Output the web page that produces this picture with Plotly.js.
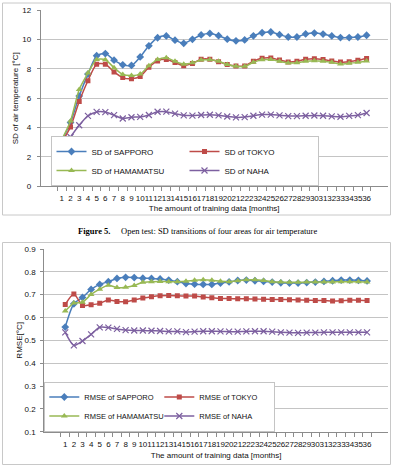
<!DOCTYPE html>
<html>
<head>
<meta charset="utf-8">
<script src="https://cdn.plot.ly/plotly-3.0.1.min.js"></script>
<style>
  html, body { margin: 0; padding: 0; background: #fff; }
  #chart { width: 394px; height: 467px; }
</style>
</head>
<body>
<div id="chart"></div>
<script>
// ---- data ----
const months = Array.from({length: 36}, (_, i) => String(i + 1));

const sdSapporo   = [3.12, 4.35, 6.15, 7.65, 8.90, 9.05, 8.60, 8.28, 8.24, 8.82, 9.58, 10.13, 10.25, 9.96, 9.75, 10.02, 10.32, 10.42, 10.27, 10.03, 9.92, 9.98, 10.26, 10.47, 10.52, 10.34, 10.18, 10.18, 10.39, 10.45, 10.38, 10.25, 10.14, 10.14, 10.18, 10.30];
const sdTokyo     = [3.00, 4.05, 5.78, 7.20, 8.32, 8.32, 7.80, 7.41, 7.33, 7.49, 8.12, 8.55, 8.65, 8.44, 8.22, 8.38, 8.66, 8.67, 8.50, 8.30, 8.20, 8.20, 8.53, 8.73, 8.75, 8.61, 8.48, 8.52, 8.66, 8.69, 8.64, 8.55, 8.47, 8.49, 8.60, 8.72];
const sdHamamatsu = [3.18, 4.45, 6.60, 7.72, 8.64, 8.63, 8.08, 7.63, 7.55, 7.65, 8.22, 8.64, 8.76, 8.52, 8.32, 8.42, 8.61, 8.62, 8.52, 8.30, 8.18, 8.18, 8.45, 8.63, 8.64, 8.52, 8.41, 8.43, 8.52, 8.56, 8.52, 8.45, 8.34, 8.39, 8.45, 8.55];
const sdNaha      = [2.49, 3.36, 4.16, 4.80, 5.07, 5.06, 4.85, 4.62, 4.71, 4.73, 4.86, 5.08, 5.09, 4.95, 4.84, 4.82, 4.86, 4.88, 4.84, 4.76, 4.70, 4.72, 4.81, 4.89, 4.89, 4.84, 4.79, 4.79, 4.81, 4.83, 4.81, 4.77, 4.74, 4.80, 4.85, 5.00];

const rmseSapporo   = [0.558, 0.660, 0.688, 0.723, 0.745, 0.757, 0.771, 0.776, 0.775, 0.772, 0.771, 0.769, 0.764, 0.757, 0.749, 0.746, 0.745, 0.745, 0.751, 0.756, 0.762, 0.764, 0.761, 0.758, 0.755, 0.752, 0.751, 0.751, 0.753, 0.755, 0.758, 0.761, 0.764, 0.764, 0.763, 0.760];
const rmseTokyo     = [0.657, 0.703, 0.653, 0.656, 0.662, 0.677, 0.670, 0.669, 0.677, 0.685, 0.691, 0.695, 0.696, 0.695, 0.694, 0.694, 0.690, 0.686, 0.683, 0.683, 0.682, 0.682, 0.681, 0.680, 0.679, 0.679, 0.678, 0.677, 0.676, 0.675, 0.674, 0.672, 0.673, 0.676, 0.676, 0.675];
const rmseHamamatsu = [0.628, 0.663, 0.667, 0.701, 0.724, 0.741, 0.731, 0.733, 0.740, 0.754, 0.757, 0.758, 0.757, 0.757, 0.759, 0.763, 0.765, 0.763, 0.759, 0.757, 0.761, 0.765, 0.765, 0.762, 0.757, 0.755, 0.754, 0.754, 0.755, 0.755, 0.756, 0.756, 0.757, 0.757, 0.757, 0.756];
const rmseNaha      = [0.535, 0.478, 0.497, 0.526, 0.557, 0.556, 0.550, 0.545, 0.543, 0.543, 0.542, 0.541, 0.539, 0.539, 0.536, 0.538, 0.540, 0.540, 0.539, 0.538, 0.538, 0.539, 0.540, 0.540, 0.538, 0.535, 0.534, 0.533, 0.534, 0.534, 0.535, 0.535, 0.535, 0.535, 0.535, 0.535];

const areas = ['SAPPORO', 'TOKYO', 'HAMAMATSU', 'NAHA'];
const xTitle = 'The amount of training data [months]';
const caption = '<b>Figure 5.</b>\u00a0\u00a0\u00a0\u00a0 Open test: SD transitions of four areas for air temperature';

// ---- styles ----
const W = 394, H = 467;
const colors = ['#4A7EBB', '#BE4B48', '#98B954', '#7D60A0'];
const symbols = [
  {symbol: 'diamond', size: 6},
  {symbol: 'square', size: 5},
  {symbol: 'triangle-up', size: 6},
  {symbol: 'x-thin-open', size: 6}
];
// bottom legend columns: SAPPORO & HAMAMATSU in the first, TOKYO & NAHA in the second
const legendCols = ['c1', 'c2', 'c1', 'c2'];
const px = v => v / W;
const py = v => 1 - v / H;

function mk(y, i, name, xa, ya, lg, grouped) {
  const t = {
    type: 'scatter', mode: 'lines+markers',
    x: months, y: y, name: name,
    xaxis: xa, yaxis: ya, legend: lg,
    line: {color: colors[i], width: 1.5, shape: 'spline', smoothing: 0.7},
    marker: {color: colors[i], symbol: symbols[i].symbol, size: symbols[i].size,
             line: {color: colors[i], width: i === 3 ? 1.2 : 0}},
    hoverinfo: 'skip'
  };
  if (grouped) t.legendgroup = lg + legendCols[i];
  return t;
}

const sdSeries = [sdSapporo, sdTokyo, sdHamamatsu, sdNaha];
const rmseSeries = [rmseSapporo, rmseTokyo, rmseHamamatsu, rmseNaha];
const data = [];
sdSeries.forEach((s, i) => data.push(mk(s, i, 'SD of ' + areas[i], 'x', 'y', 'legend', false)));
rmseSeries.forEach((s, i) => data.push(mk(s, i, 'RMSE of ' + areas[i], 'x2', 'y2', 'legend2', true)));

const axisGray = '#8C8C8C';
const gridGray = '#C4C4C4';
const fontFam = 'Liberation Sans, Arial, sans-serif';

function xax(domain, anchor, labStand, titleStand) {
  return {
    domain: domain, anchor: anchor, type: 'category',
    tickmode: 'linear', dtick: 1, tickangle: 0,
    tickson: 'boundaries', ticks: 'outside', ticklen: 4, tickcolor: axisGray,
    showline: true, linecolor: axisGray, linewidth: 1,
    showgrid: false, zeroline: false,
    ticklabelstandoff: labStand,
    tickfont: {size: 8, family: fontFam, color: '#111'},
    title: {text: xTitle, font: {size: 8, family: fontFam, color: '#111'}, standoff: titleStand},
    fixedrange: true
  };
}
function yax(domain, anchor, range, dtick, title, fmt, labStand, titleStand) {
  return {
    domain: domain, anchor: anchor, range: range, dtick: dtick, tick0: 0,
    tickformat: fmt,
    ticks: 'outside', ticklen: 3, tickcolor: axisGray,
    showline: true, linecolor: axisGray, linewidth: 1,
    showgrid: true, gridcolor: gridGray, gridwidth: 1, zeroline: false,
    tickfont: {size: 8, family: fontFam, color: '#111'},
    ticklabelstandoff: labStand,
    title: {text: title, font: {size: 8, family: fontFam, color: '#111'}, standoff: titleStand},
    fixedrange: true
  };
}

const layout = {
  width: W, height: H,
  margin: {l: 0, r: 0, t: 0, b: 0, autoexpand: false},
  paper_bgcolor: '#fff', plot_bgcolor: 'rgba(0,0,0,0)',
  font: {family: fontFam, size: 8, color: '#111'},
  showlegend: true,
  xaxis: xax([px(40.7), px(387.7)], 'y', 4, 3),
  yaxis: yax([py(186.3), py(10.3)], 'x', [0, 12], 2, 'SD of air temperature [°C]', '', 4, 2),
  xaxis2: xax([px(44.3), px(388)], 'y2', 5, 4),
  yaxis2: yax([py(431.7), py(249)], 'x2', [0.1, 0.9], 0.1, 'RMSE[°C]', '.1f', 3, 0),
  legend: {
    x: px(50.5), y: py(186), xanchor: 'left', yanchor: 'bottom',
    orientation: 'h', traceorder: 'normal',
    entrywidth: 88, entrywidthmode: 'pixels',
    bgcolor: '#fff', bordercolor: gridGray, borderwidth: 1,
    font: {size: 8, family: fontFam, color: '#111'}, itemclick: false, itemdoubleclick: false
  },
  legend2: {
    x: px(44.3), y: py(431.5), xanchor: 'left', yanchor: 'bottom',
    orientation: 'h', traceorder: 'grouped', tracegroupgap: 0,
    entrywidth: 70, entrywidthmode: 'pixels',
    bgcolor: '#fff', bordercolor: gridGray, borderwidth: 1,
    font: {size: 7.5, family: fontFam, color: '#111'}, itemclick: false, itemdoubleclick: false
  },
  shapes: [
    {type: 'rect', xref: 'paper', yref: 'paper', x0: px(2.5), x1: px(390.5), y0: py(215), y1: py(3),
     line: {color: '#C8C8C8', width: 1}, layer: 'below'},
    {type: 'rect', xref: 'paper', yref: 'paper', x0: px(2.5), x1: px(390.5), y0: py(464.5), y1: py(242.5),
     line: {color: '#C8C8C8', width: 1}, layer: 'below'}
  ],
  annotations: [
    {text: caption, xref: 'paper', yref: 'paper', x: 0.5, y: py(231.5), xanchor: 'center', yanchor: 'middle',
     showarrow: false, font: {family: 'Liberation Serif, Times New Roman, serif', size: 8.5, color: '#000'}}
  ]
};

Plotly.newPlot('chart', data, layout, {staticPlot: true, displayModeBar: false});
</script>
</body>
</html>
